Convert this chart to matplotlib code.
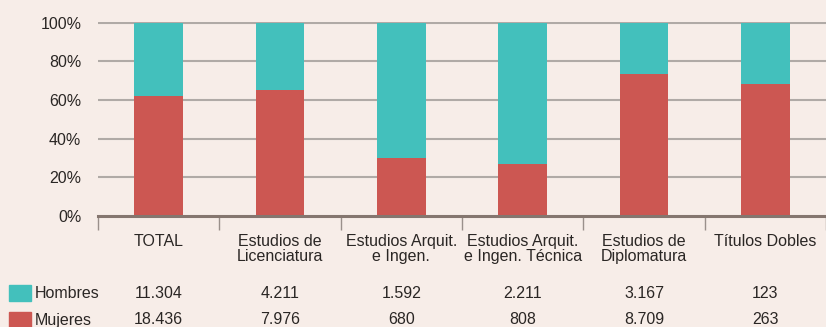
import matplotlib.pyplot as plt
import matplotlib.transforms as mtransforms
import numpy as np

plt.rcParams["font.family"] = ["Liberation Sans Narrow", "Liberation Sans", "DejaVu Sans"]

categorias = ["TOTAL", "Estudios de\nLicenciatura", "Estudios Arquit.\ne Ingen.",
              "Estudios Arquit.\ne Ingen. Técnica", "Estudios de\nDiplomatura", "Títulos Dobles"]
hombres = [11304, 4211, 1592, 2211, 3167, 123]
mujeres = [18436, 7976, 680, 808, 8709, 263]
etiquetas_hombres = ["11.304", "4.211", "1.592", "2.211", "3.167", "123"]
etiquetas_mujeres = ["18.436", "7.976", "680", "808", "8.709", "263"]
yticks = [0, 20, 40, 60, 80, 100]

fondo = "#F7EDE8"
rojo = "#CC5752"
turquesa = "#43C0BC"
texto = "#2A2624"

h = np.array(hombres, dtype=float)
m = np.array(mujeres, dtype=float)
pct_m = m / (h + m) * 100
pct_h = 100 - pct_m

fig = plt.figure(figsize=(8.26, 3.27), dpi=100, facecolor=fondo)
ax = fig.add_axes([98 / 826, 1 - 216 / 327, 1 - 98 / 826, 194 / 327])
ax.set_facecolor(fondo)

x = np.arange(len(categorias))
ax.bar(x, pct_m, width=0.4, color=rojo, zorder=3)
ax.bar(x, pct_h, bottom=pct_m, width=0.4, color=turquesa, zorder=3)

ax.set_xlim(-0.5, len(categorias) - 0.5)
ax.set_ylim(0, 100.4)
ax.set_yticks(yticks)
ax.set_yticklabels([f"{v}%" for v in yticks], fontsize=11.5, color=texto)
for v in yticks[1:]:
    ax.axhline(v, color="#B0AAA6", linewidth=1.5, zorder=1)
ax.axhline(0, color="#85766F", linewidth=2.2, zorder=4, clip_on=False)

for s in ax.spines.values():
    s.set_visible(False)
ax.tick_params(axis="y", length=0, pad=12)

# separadores de categoría bajo la línea base
ax.set_xticks(x)
ax.set_xticklabels([])
ax.tick_params(axis="x", which="major", length=0)
ax.set_xticks(np.arange(len(categorias) + 1) - 0.5, minor=True)
ax.tick_params(axis="x", which="minor", length=10, width=1, color="#9A908B", direction="out")

trans = mtransforms.blended_transform_factory(ax.transData, fig.transFigure)
for i, cat in enumerate(categorias):
    ax.text(i, 1 - 234 / 327, cat, transform=trans, ha="center", va="top",
            fontsize=11.5, color=texto, linespacing=1.0)
    ax.text(i, 1 - 293 / 327, etiquetas_hombres[i], transform=trans, ha="center",
            va="center", fontsize=11.5, color=texto)
    ax.text(i, 1 - 320 / 327, etiquetas_mujeres[i], transform=trans, ha="center",
            va="center", fontsize=11.5, color=texto)

# leyenda a modo de tabla
for y_px, color, nombre in [(293, turquesa, "Hombres"), (320, rojo, "Mujeres")]:
    fig.patches.append(plt.Rectangle((9 / 826, 1 - (y_px + 8) / 327), 22 / 826, 16 / 327,
                                     transform=fig.transFigure, color=color))
    fig.text(35 / 826, 1 - y_px / 327, nombre, ha="left", va="center",
             fontsize=11.5, color=texto)

fig.savefig("out.png", dpi=100, facecolor=fondo)
